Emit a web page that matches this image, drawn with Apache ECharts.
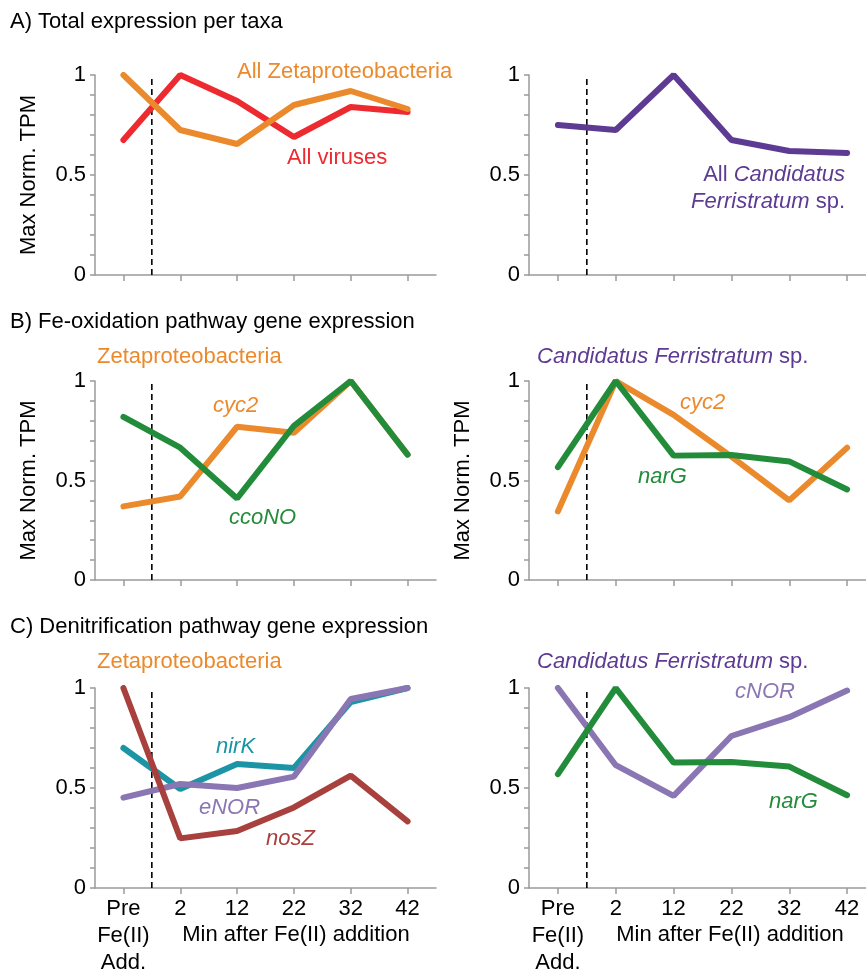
<!DOCTYPE html>
<html>
<head>
<meta charset="utf-8">
<script src="https://cdn.jsdelivr.net/npm/echarts@6/dist/echarts.min.js"></script>
<style>
html,body{margin:0;padding:0;background:#fff;}
#chart{width:866px;height:969px;}
</style>
</head>
<body>
<div id="chart"></div>
<script>
// ---- data ----
const categories = ['Pre\nFe(II)\nAdd.', '2', '12', '22', '32', '42'];
const yTickLabels = ['0', '0.5', '1'];
// A) Total expression per taxa
const aZeta    = [1.0, 0.725, 0.655, 0.85, 0.92, 0.83];
const aViruses = [0.675, 1.0, 0.87, 0.69, 0.84, 0.815];
const aFerri   = [0.75, 0.725, 1.0, 0.675, 0.62, 0.61];
// B) Fe-oxidation pathway
const bZetaCyc2  = [0.37, 0.42, 0.77, 0.74, 1.0, 0.63];
const bZetaCcoNO = [0.82, 0.665, 0.41, 0.775, 1.0, 0.63];
const bFerriCyc2 = [0.345, 1.0, 0.83, 0.62, 0.40, 0.665];
const bFerriNarG = [0.567, 1.0, 0.625, 0.628, 0.596, 0.455];
// C) Denitrification pathway
const cZetaNirK  = [0.70, 0.495, 0.62, 0.60, 0.93, 1.0];
const cZetaENOR  = [0.452, 0.52, 0.50, 0.557, 0.945, 1.0];
const cZetaNosZ  = [1.0, 0.248, 0.285, 0.403, 0.562, 0.333];
const cFerriCNOR = [1.0, 0.614, 0.461, 0.76, 0.854, 0.987];
const cFerriNarG = [0.569, 1.0, 0.627, 0.63, 0.607, 0.464];
// position of Fe(II) addition (between Pre and 2), in category index units
const feAdditionPos = 0.5;

// ---- styles ----
const FONT = '"Liberation Sans", Arial, Helvetica, sans-serif';
const FS = 22;
const C = {
  orange: '#EB8A2C', red: '#EC2A2F', purple: '#5E3B92', green: '#238C3B',
  teal: '#1B95A5', lpurple: '#8A76B3', brown: '#A8403E', axis: '#9a9a9a'
};

const grids = [
  {left: 95,  top: 75,  width: 341, height: 200},
  {left: 529, top: 75,  width: 347, height: 200},
  {left: 95,  top: 381, width: 341, height: 199},
  {left: 529, top: 381, width: 347, height: 199},
  {left: 95,  top: 688, width: 341, height: 200},
  {left: 529, top: 688, width: 347, height: 200}
].map(g => Object.assign({outerBoundsMode: 'none', containLabel: false}, g));
const yNames = ['Max Norm. TPM', '', 'Max Norm. TPM', 'Max Norm. TPM', '', ''];

const xAxes = [], yAxes = [], series = [];
grids.forEach((g, i) => {
  const showLabels = i >= 4;
  xAxes.push({
    type: 'category', gridIndex: i, data: categories, boundaryGap: true,
    axisLine: {show: true, onZero: false, lineStyle: {color: C.axis, width: 1.5}},
    axisTick: {show: true, alignWithLabel: true, length: 6, lineStyle: {color: C.axis, width: 1.5}},
    axisLabel: {show: showLabels, color: '#000', fontSize: FS, fontFamily: FONT, lineHeight: 27, margin: 7, interval: 0},
    splitLine: {show: false}
  });
  yAxes.push({
    type: 'value', gridIndex: i, min: 0, max: 1, interval: 0.1,
    name: yNames[i], nameLocation: 'middle', nameGap: 55,
    nameTextStyle: {color: '#000', fontSize: FS, fontFamily: FONT},
    axisLine: {show: true, onZero: false, lineStyle: {color: C.axis, width: 1.5}},
    axisTick: {show: true, length: 5, lineStyle: {color: C.axis, width: 1.5}},
    axisLabel: {
      color: '#000', fontSize: FS, fontFamily: FONT, margin: 9,
      formatter: v => {
        const r = Math.round(v * 10) / 10;
        if (r === 0) return yTickLabels[0];
        if (r === 0.5) return yTickLabels[1];
        if (r === 1) return yTickLabels[2];
        return '';
      }
    },
    splitLine: {show: false}
  });
});
// hidden value x-axes for the Fe(II) addition dashed line
grids.forEach((g, i) => {
  xAxes.push({type: 'value', gridIndex: i, min: -0.5, max: categories.length - 0.5, show: false,
    axisLine: {show: false, onZero: false}});
});

function line(gi, data, color) {
  series.push({
    type: 'line', xAxisIndex: gi, yAxisIndex: gi, data: data, symbol: 'none',
    lineStyle: {color: color, width: 6, cap: 'round'}, silent: true, animation: false
  });
}
function dash(gi) {
  series.push({
    type: 'line', xAxisIndex: 6 + gi, yAxisIndex: gi,
    data: [[feAdditionPos, 0], [feAdditionPos, 1]], symbol: 'none',
    lineStyle: {color: '#000', width: 1.6, type: [6, 4]}, silent: true, animation: false, z: 1
  });
}
for (let i = 0; i < 6; i++) dash(i);
line(0, aViruses, C.red);
line(0, aZeta, C.orange);
line(1, aFerri, C.purple);
line(2, bZetaCyc2, C.orange);
line(2, bZetaCcoNO, C.green);
line(3, bFerriCyc2, C.orange);
line(3, bFerriNarG, C.green);
line(4, cZetaNirK, C.teal);
line(4, cZetaENOR, C.lpurple);
line(4, cZetaNosZ, C.brown);
line(5, cFerriCNOR, C.lpurple);
line(5, cFerriNarG, C.green);

function txt(x, y, text, color, opts) {
  opts = opts || {};
  return {
    type: 'text', x: x, y: y, silent: true, z: 10,
    style: Object.assign({
      text: text, fill: color,
      font: (opts.italic ? 'italic ' : '') + (opts.size || FS) + 'px ' + FONT,
      textAlign: opts.align || 'left', textVerticalAlign: 'middle'
    }, opts.rich ? {rich: opts.rich} : {})
  };
}
const richFerri = {
  n: {fontFamily: FONT, fontSize: FS, fill: C.purple, color: C.purple, lineHeight: 27},
  i: {fontFamily: FONT, fontSize: FS, fontStyle: 'italic', fill: C.purple, color: C.purple, lineHeight: 27}
};
const graphics = [
  txt(10, 22, 'A) Total expression per taxa', '#000'),
  txt(10, 322, 'B) Fe-oxidation pathway gene expression', '#000'),
  txt(10, 627, 'C) Denitrification pathway gene expression', '#000'),
  txt(97, 357, 'Zetaproteobacteria', C.orange),
  txt(97, 662, 'Zetaproteobacteria', C.orange),
  txt(537, 357, '{i|Candidatus Ferristratum} {n|sp.}', C.purple, {rich: richFerri}),
  txt(537, 662, '{i|Candidatus Ferristratum} {n|sp.}', C.purple, {rich: richFerri}),
  txt(237, 72, 'All Zetaproteobacteria', C.orange),
  txt(287, 158, 'All viruses', C.red),
  txt(845, 188, '{n|All }{i|Candidatus}\n{i|Ferristratum}{n| sp.}', C.purple, {rich: richFerri, align: 'right'}),
  txt(213, 406, 'cyc2', C.orange, {italic: true}),
  txt(229, 518, 'ccoNO', C.green, {italic: true}),
  txt(680, 403, 'cyc2', C.orange, {italic: true}),
  txt(638, 477, 'narG', C.green, {italic: true}),
  txt(216, 747, 'nirK', C.teal, {italic: true}),
  txt(199, 808, 'eNOR', C.lpurple, {italic: true}),
  txt(266, 839, 'nosZ', C.brown, {italic: true}),
  txt(735, 692, 'cNOR', C.lpurple, {italic: true}),
  txt(769, 802, 'narG', C.green, {italic: true}),
  txt(296, 935, 'Min after Fe(II) addition', '#000', {align: 'center'}),
  txt(730, 935, 'Min after Fe(II) addition', '#000', {align: 'center'})
];

const chart = echarts.init(document.getElementById('chart'), null, {renderer: 'canvas'});
chart.setOption({
  animation: false,
  backgroundColor: '#fff',
  textStyle: {fontFamily: FONT},
  grid: grids,
  xAxis: xAxes,
  yAxis: yAxes,
  series: series,
  graphic: graphics
});
</script>
</body>
</html>
